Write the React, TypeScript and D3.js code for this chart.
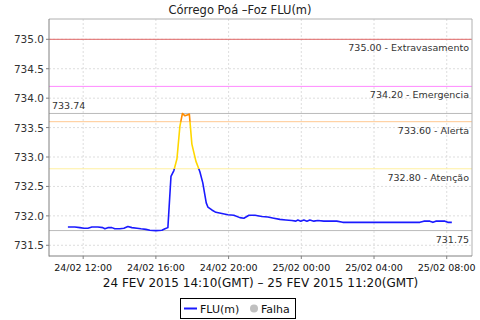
import React from "react";
import * as d3 from "d3";

// hours since 24/02/2015 00:00 (local display time)
const hours: number[] = [
  11.16, 11.54, 11.82, 12.04, 12.26, 12.48, 12.81, 13.08, 13.19, 13.36, 13.58, 13.74, 14.02, 14.24,
  14.46, 14.68, 14.96, 15.18, 15.45, 15.67, 16.0, 16.33, 16.5, 16.66, 16.83, 16.99, 17.16, 17.32,
  17.46, 17.6, 17.76, 17.84, 17.98, 18.2, 18.42, 18.58, 18.77, 18.86, 19.08, 19.3, 19.63, 19.96,
  20.29, 20.62, 20.84, 21.12, 21.45, 21.83, 22.16, 22.49, 22.82, 23.15, 23.48, 23.7, 23.81, 23.97,
  24.14, 24.31, 24.47, 24.69, 24.91, 25.24, 25.57, 25.95, 26.28, 27.22, 28.32, 29.42, 30.52, 30.74,
  31.07, 31.24, 31.4, 31.62, 31.9, 32.06, 32.28,
];
const levels: number[] = [
  731.81, 731.81, 731.8, 731.79, 731.79, 731.81, 731.81, 731.8, 731.78, 731.8, 731.8, 731.78, 731.78, 731.79,
  731.82, 731.8, 731.79, 731.78, 731.77, 731.755, 731.75, 731.755, 731.78, 731.8, 732.67, 732.77, 732.97, 733.52,
  733.74, 733.7, 733.72, 733.73, 733.22, 732.93, 732.75, 732.56, 732.22, 732.15, 732.1, 732.06, 732.04, 732.02,
  732.01, 731.97, 731.96, 732.01, 732.01, 731.99, 731.98, 731.96, 731.94, 731.93, 731.92, 731.91, 731.93, 731.91,
  731.93, 731.91, 731.93, 731.91, 731.92, 731.91, 731.91, 731.91, 731.89, 731.89, 731.89, 731.89, 731.89, 731.91,
  731.91, 731.89, 731.91, 731.91, 731.91, 731.89, 731.89,
];

const thresholdValues: number[] = [735.0, 734.2, 733.6, 732.8];
const thresholdNames: string[] = ["Extravasamento", "Emergencia", "Alerta", "Atenção"];
const thresholdColors: string[] = ["#e06666", "#ff88ff", "#ffc890", "#fff0a0"];
const maxValue = 733.74;
const minValue = 731.75;

const yTicks: number[] = [731.5, 732.0, 732.5, 733.0, 733.5, 734.0, 734.5, 735.0];
const xDomainHours: number[] = [10.12, 33.39];
const yDomain: number[] = [731.318, 735.345];

const title = "Córrego Poá –Foz FLU(m)";
const subtitle = "24 FEV 2015 14:10(GMT) – 25 FEV 2015 11:20(GMT)";
const legendSeries = "FLU(m)";
const legendFail = "Falha";

const base = Date.UTC(2015, 1, 24, 0, 0);
const toDate = (h: number) => new Date(base + h * 3600 * 1000);

export default function App() {
  const W = 480, H = 320;
  const L = 49, R = 472, T = 19, B = 256;
  const x = d3.scaleUtc().domain(xDomainHours.map(toDate)).range([L, R]);
  const y = d3.scaleLinear().domain(yDomain).range([B, T]);
  const data = hours.map((h, i) => ({ d: toDate(h), v: levels[i] }));
  const line = d3.line<{ d: Date; v: number }>().x((p) => x(p.d)).y((p) => y(p.v));
  const path = line(data) || "";
  const xTicks = x.ticks(d3.utcHour.every(4)!);
  const fmt = d3.utcFormat("%d/%m %H:%M");
  const font = "'DejaVu Sans', sans-serif";

  const bands = [
    { id: "cb", y0: y(732.8), y1: B, color: "#1a1aff" },
    { id: "cy", y0: y(733.6), y1: y(732.8), color: "#ffd700" },
    { id: "co", y0: T, y1: y(733.6), color: "#ff8c00" },
  ];

  return (
    <svg width={W} height={H} style={{ position: "absolute", left: 0, top: 0, background: "#fff" }} fontFamily={font}>
      <defs>
        {bands.map((b) => (
          <clipPath id={b.id} key={b.id}>
            <rect x={L} y={b.y0} width={R - L} height={b.y1 - b.y0} />
          </clipPath>
        ))}
      </defs>
      <rect x={0} y={0} width={W} height={H} fill="#fff" />
      <text x={240} y={14} textAnchor="middle" fontSize={11.5} fill="#222">{title}</text>
      {/* grid */}
      {yTicks.map((t) => (
        <line key={"gy" + t} x1={L} x2={R} y1={y(t)} y2={y(t)} stroke="#d4d4d4" strokeDasharray="2,2" strokeWidth={0.8} />
      ))}
      {xTicks.map((t) => (
        <line key={"gx" + t.getTime()} x1={x(t)} x2={x(t)} y1={T} y2={B} stroke="#d4d4d4" strokeDasharray="2,2" strokeWidth={0.8} />
      ))}
      {/* threshold lines */}
      {thresholdValues.map((v, i) => (
        <g key={"th" + i}>
          <line x1={L} x2={R} y1={y(v)} y2={y(v)} stroke={thresholdColors[i]} strokeWidth={1} />
          <text x={469} y={y(v) + 12} textAnchor="end" fontSize={9.5} fill="#333">
            {v.toFixed(2) + " - " + thresholdNames[i]}
          </text>
        </g>
      ))}
      <line x1={L} x2={R} y1={y(maxValue)} y2={y(maxValue)} stroke="#bbbbbb" strokeWidth={1} />
      <text x={52} y={y(maxValue) - 4} fontSize={9.5} fill="#333">{maxValue.toFixed(2)}</text>
      <line x1={L} x2={R} y1={y(minValue)} y2={y(minValue)} stroke="#bbbbbb" strokeWidth={1} />
      <text x={469} y={y(minValue) + 12} textAnchor="end" fontSize={9.5} fill="#333">{minValue.toFixed(2)}</text>
      {/* data line */}
      {bands.map((b) => (
        <path key={"p" + b.id} d={path} fill="none" stroke={b.color} strokeWidth={1.6} clipPath={`url(#${b.id})`} strokeLinejoin="round" />
      ))}
      {/* border */}
      <line x1={L} x2={R} y1={T} y2={T} stroke="#b0b0b0" />
      <line x1={R} x2={R} y1={T} y2={B} stroke="#b0b0b0" />
      <line x1={L} x2={L} y1={T} y2={B + 0.5} stroke="#808080" />
      <line x1={L} x2={R} y1={B} y2={B} stroke="#808080" />
      {/* y ticks */}
      {yTicks.map((t) => (
        <g key={"yt" + t}>
          <line x1={L - 3} x2={L} y1={y(t)} y2={y(t)} stroke="#808080" />
          <text x={44} y={y(t) + 4} textAnchor="end" fontSize={10.5} fill="#333">{t.toFixed(1)}</text>
        </g>
      ))}
      {/* x ticks */}
      {xTicks.map((t) => (
        <g key={"xt" + t.getTime()}>
          <line x1={x(t)} x2={x(t)} y1={B} y2={B + 3} stroke="#808080" />
          <text x={x(t)} y={271} textAnchor="middle" fontSize={9.5} fill="#111">{fmt(t)}</text>
        </g>
      ))}
      <text x={(L + R) / 2} y={287} textAnchor="middle" fontSize={12} fill="#111">{subtitle}</text>
      {/* legend */}
      <rect x={180.5} y={298.5} width={115} height={20} fill="#fff" stroke="#000" />
      <line x1={184} x2={197} y1={308.5} y2={308.5} stroke="#1a1aff" strokeWidth={2} />
      <text x={200} y={313} fontSize={11} fill="#111">{legendSeries}</text>
      <circle cx={254} cy={308.5} r={4} fill="#c0c0c0" />
      <text x={261} y={313} fontSize={11} fill="#111">{legendFail}</text>
    </svg>
  );
}
